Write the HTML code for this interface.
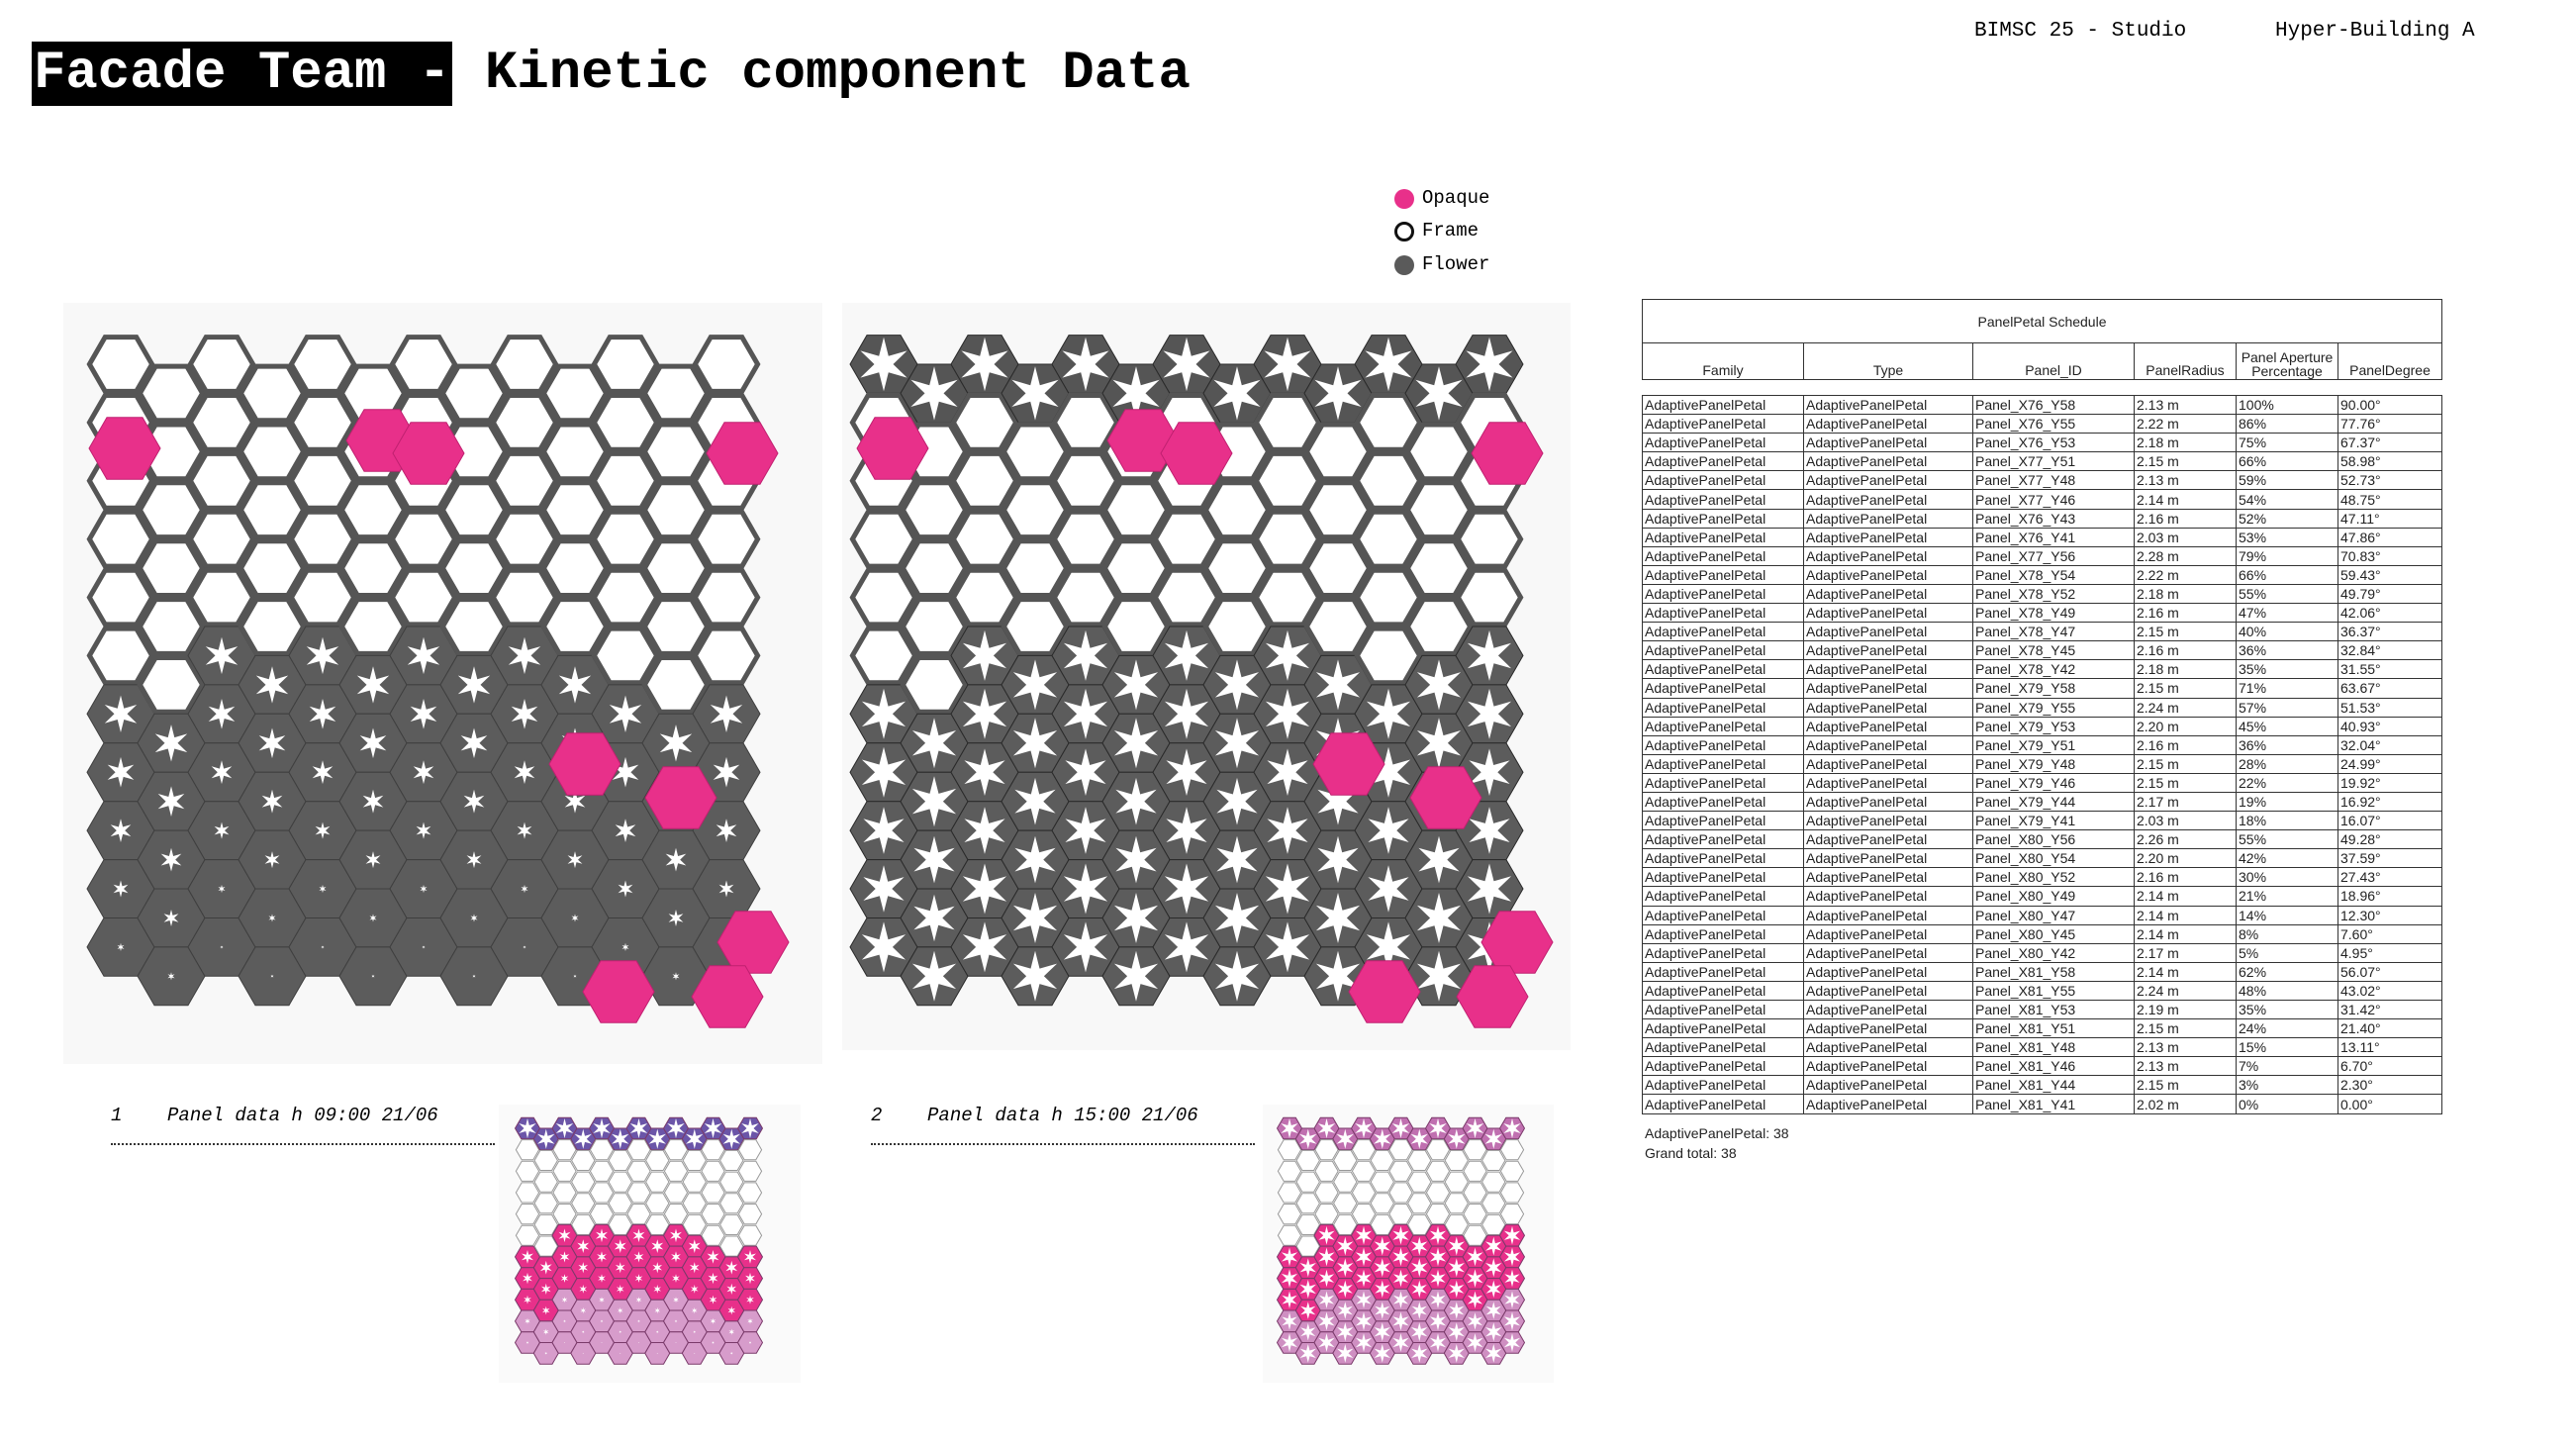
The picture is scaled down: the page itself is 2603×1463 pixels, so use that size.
<!DOCTYPE html>
<html><head><meta charset="utf-8">
<style>
html,body{margin:0;padding:0;background:#fff;}
body{width:2603px;height:1463px;position:relative;overflow:hidden;font-family:"Liberation Mono",monospace;}
.abs{position:absolute;}
#title-box{left:32px;top:42px;width:425px;height:65px;background:#000;}
.ttl{font-weight:bold;font-size:54px;line-height:65px;top:42px;white-space:pre;}
.hdr{font-size:21px;top:20px;}
.leg{font-size:19px;left:1437px;}
.dot{left:1409px;width:20px;height:20px;border-radius:50%;}
.cap{font-size:19px;font-style:italic;top:1116px;white-space:pre;}
.dots{height:0;border-top:2px dotted #333;top:1155px;}
table{border-collapse:collapse;font-family:"Liberation Sans Narrow","Liberation Sans",sans-serif;font-size:14px;color:#222;}
#sched{left:1659px;top:302px;width:809px;}
#sched td{border:1.5px solid #333;padding:0 2px;height:18.1px;line-height:16px;white-space:nowrap;overflow:hidden;}
#sched th{border:1.5px solid #333;font-weight:normal;font-size:14px;}
.tot{font-family:"Liberation Sans Narrow","Liberation Sans",sans-serif;font-size:14px;left:1662px;color:#222;}
</style></head>
<body>
<div id="title-box" class="abs"></div>
<div class="abs ttl" style="left:34px;color:#fff">Facade Team -</div>
<div class="abs ttl" style="left:490px;color:#000">Kinetic component Data</div>
<div class="abs hdr" style="left:1995px">BIMSC 25 - Studio</div>
<div class="abs hdr" style="left:2299px">Hyper-Building A</div>

<div class="abs dot" style="top:191px;background:#e8308a"></div>
<div class="abs leg" style="top:189px">Opaque</div>
<div class="abs dot" style="top:224px;border:3px solid #111;width:14px;height:14px"></div>
<div class="abs leg" style="top:222px">Frame</div>
<div class="abs dot" style="top:258px;background:#5a5a5a"></div>
<div class="abs leg" style="top:256px">Flower</div>

<svg class="abs" style="left:0;top:0" width="2603" height="1463" id="art">
<rect x="64" y="306" width="767" height="769" fill="#f8f8f8"/>
<rect x="851" y="306" width="736" height="755" fill="#f8f8f8"/>
<rect x="504" y="1116" width="305" height="281" fill="#fafafa"/>
<rect x="1276" y="1116" width="294" height="281" fill="#fafafa"/>
</svg>

<div class="abs cap" style="left:112px">1    Panel data h 09:00 21/06</div>
<div class="abs dots" style="left:112px;width:388px"></div>
<div class="abs cap" style="left:880px">2    Panel data h 15:00 21/06</div>
<div class="abs dots" style="left:880px;width:388px"></div>

<table id="sched" class="abs">
<tr><th colspan="6" style="height:41px">PanelPetal Schedule</th></tr>
<tr style="height:37px;vertical-align:bottom"><th style="width:160px">Family</th><th style="width:168px">Type</th><th style="width:160px">Panel_ID</th><th style="width:100px">PanelRadius</th><th style="width:100px;line-height:14px">Panel Aperture<br>Percentage</th><th>PanelDegree</th></tr>
<tr><td colspan="6" style="border-left:none;border-right:none;height:15px"></td></tr>
<tbody id="rows"></tbody>
</table>
<div class="abs tot" style="top:1137px">AdaptivePanelPetal: 38</div>
<div class="abs tot" style="top:1157px">Grand total: 38</div>

<script>
const panelIds=["X76_Y58","X76_Y55","X76_Y53","X77_Y51","X77_Y48","X77_Y46","X76_Y43","X76_Y41","X77_Y56","X78_Y54","X78_Y52","X78_Y49","X78_Y47","X78_Y45","X78_Y42","X79_Y58","X79_Y55","X79_Y53","X79_Y51","X79_Y48","X79_Y46","X79_Y44","X79_Y41","X80_Y56","X80_Y54","X80_Y52","X80_Y49","X80_Y47","X80_Y45","X80_Y42","X81_Y58","X81_Y55","X81_Y53","X81_Y51","X81_Y48","X81_Y46","X81_Y44","X81_Y41"];
const radii=["2.13","2.22","2.18","2.15","2.13","2.14","2.16","2.03","2.28","2.22","2.18","2.16","2.15","2.16","2.18","2.15","2.24","2.20","2.16","2.15","2.15","2.17","2.03","2.26","2.20","2.16","2.14","2.14","2.14","2.17","2.14","2.24","2.19","2.15","2.13","2.13","2.15","2.02"];
const apertures=[100,86,75,66,59,54,52,53,79,66,55,47,40,36,35,71,57,45,36,28,22,19,18,55,42,30,21,14,8,5,62,48,35,24,15,7,3,0];
const degrees=["90.00","77.76","67.37","58.98","52.73","48.75","47.11","47.86","70.83","59.43","49.79","42.06","36.37","32.84","31.55","63.67","51.53","40.93","32.04","24.99","19.92","16.92","16.07","49.28","37.59","27.43","18.96","12.30","7.60","4.95","56.07","43.02","31.42","21.40","13.11","6.70","2.30","0.00"];
const tb=document.getElementById('rows');
panelIds.forEach((id,i)=>{
  const tr=document.createElement('tr');
  
  
  [ 'AdaptivePanelPetal','AdaptivePanelPetal','Panel_'+id, radii[i]+' m', apertures[i]+'%', degrees[i]+'°'].forEach(t=>{
    const td=document.createElement('td');td.textContent=t;tr.appendChild(td);
  });
  tb.appendChild(tr);
});

const p1Boundary=[6,6,5,5,5,5,5,5,5,5,6,6,6];
const p2Boundary=[6,6,5,5,5,5,5,5,5,5,6,5,5];
const p1StarRows=[0.55,0.45,0.35,0.25,0.12,0.05,0.03,0.02,0.02,0.02,0.02,0.02];
const p2StarRows=[0.75,0.75,0.7,0.7,0.75,0.75,0.7,0.7,0.65,0.6,0.6,0.6];
const p1Pink=[[126,453],[386,445],[433,458],[750,458],[591,772],[688,806],[761,952],[625,1002],[735,1007]];
const p2Pink=[[902,453],[1155,445],[1209,458],[1523,458],[1363,772],[1461,806],[1533,952],[1399,1002],[1508,1007]];

const NS='http://www.w3.org/2000/svg';
const svg=document.getElementById('art');
function hexPts(cx,cy,r){let p=[];for(let k=0;k<6;k++){const a=Math.PI/3*k;p.push([cx+r*Math.cos(a),cy+r*Math.sin(a)]);}return p;}
function starPts(cx,cy,r,f){let p=[];for(let k=0;k<12;k++){const a=Math.PI/6*k;const rr=k%2?r*f*0.35:r*f;p.push([cx+rr*Math.cos(a+Math.PI/6),cy+rr*Math.sin(a+Math.PI/6)]);}return p;}
function poly(pts,fill,stroke,sw,name){
  const e=document.createElementNS(NS,'polygon');
  e.setAttribute('points',pts.map(p=>p[0].toFixed(1)+','+p[1].toFixed(1)).join(' '));
  e.setAttribute('fill',fill);e.setAttribute('stroke',stroke);e.setAttribute('stroke-width',sw);
  
  
  svg.appendChild(e);
}
function grid(ox,oy,r,cols,rows,bound,starF,topFlower,colors,sw,lowerOff){
  const h=r*Math.sqrt(3);
  for(let c=0;c<cols;c++)for(let q=0;q<rows;q++){
    const cx=ox+c*1.5*r, cy=oy+h*(q+(c%2)*0.5);
    const inner=r*0.93;
    if(q<bound[c] && !(topFlower && q===0)){
      poly(hexPts(cx,cy,inner),'#fff',colors.frame,sw,'frame-panel');
    } else {
      const fill=(topFlower&&q===0)?colors.topFill:(colors.lower&&q>=bound[c]+lowerOff?colors.lower:colors.flower);
      poly(hexPts(cx,cy,r),fill,colors.line,1,'flower-panel');
      const f=(topFlower&&q===0)?0.8:starF[Math.max(0,q-bound[c])]||0.02;
      poly(starPts(cx,cy,r,f),'#fff','none',0,'flower-aperture');
    }
  }
}
function pinks(list,r){list.forEach(p=>poly(hexPts(p[0],p[1],r),'#e8308a','#c02070',1,'opaque-panel'));}

grid(122,368,34,13,11,p1Boundary,p1StarRows,false,{frame:'#555',line:'#3f3f3f',flower:'#5c5c5c'},5,99);
pinks(p1Pink,36);
grid(893,368,34,13,11,p2Boundary,p2StarRows,true,{frame:'#555',line:'#2a2a2a',flower:'#5c5c5c',topFill:'#555'},5,99);
pinks(p2Pink,36);
grid(533,1140,12.5,13,11,p1Boundary,p1StarRows,true,{frame:'#999',line:'#7a3a6a',flower:'#e8308a',lower:'#d79ccb',topFill:'#6b55a8'},1,3);
grid(1303,1140,12.5,13,11,p2Boundary,p2StarRows,true,{frame:'#999',line:'#7a3a6a',flower:'#e8308a',lower:'#cf8fc2',topFill:'#c070b0'},1,3);
</script>
</body></html>
